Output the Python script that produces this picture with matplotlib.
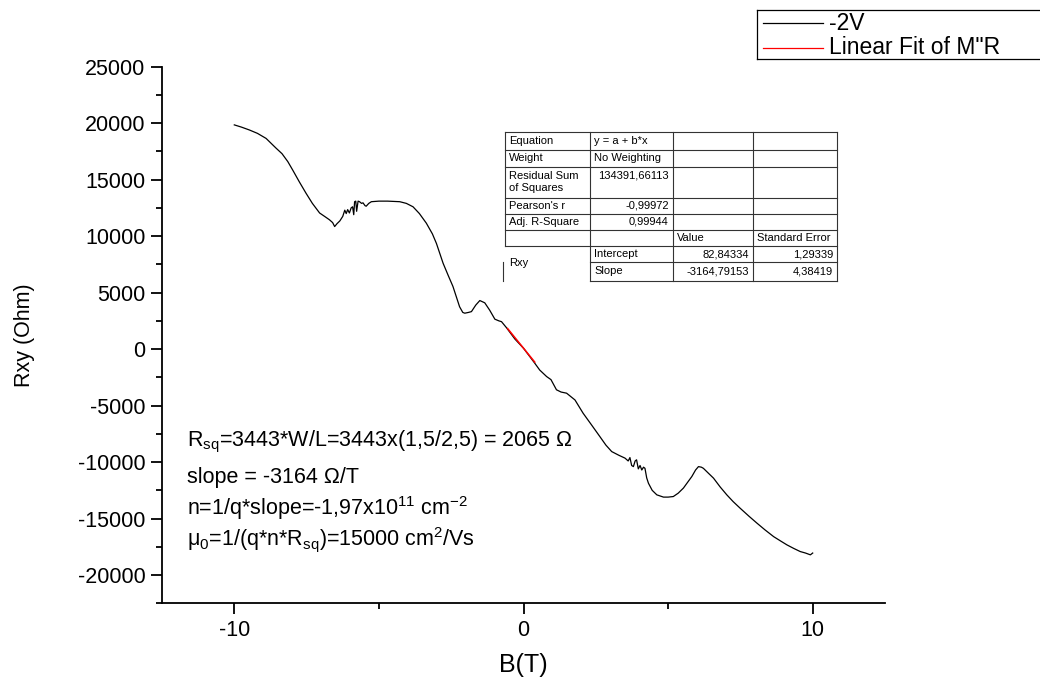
import numpy as np
import matplotlib
matplotlib.use("Agg")
import matplotlib.pyplot as plt
from matplotlib.ticker import MultipleLocator

plt.rcParams['font.family'] = ['Liberation Sans', 'DejaVu Sans']
plt.rcParams['mathtext.fontset'] = 'custom'
plt.rcParams['mathtext.rm'] = 'Liberation Sans'
plt.rcParams['mathtext.it'] = 'Liberation Sans'
plt.rcParams['axes.unicode_minus'] = False

# measured Rxy vs B at -2V gate
b_field = [-10.0, -9.75, -9.48, -9.2, -8.90, -8.56, -8.35, -8.15, -7.98, -7.75,
           -7.52, -7.30, -7.05, -6.85, -6.71, -6.60, -6.53, -6.45, -6.35, -6.25,
           -6.18, -6.13, -6.08, -6.02, -5.96, -5.91, -5.87, -5.84, -5.80, -5.77,
           -5.72, -5.67, -5.60, -5.55, -5.48, -5.44, -5.35, -5.26, -5.0, -4.7,
           -4.28, -4.05, -3.82, -3.6, -3.36, -3.15, -3.01, -2.78, -2.6, -2.44,
           -2.21, -2.10, -2.03, -1.90, -1.80, -1.65, -1.51, -1.34, -1.17, -0.99,
           -0.85, -0.76, -0.59, -0.3, 0.0, 0.39, 0.56, 0.80, 0.95, 1.14,
           1.30, 1.49, 1.78, 2.06, 2.35, 2.64, 2.85, 3.05, 3.3, 3.51,
           3.62, 3.68, 3.74, 3.80, 3.86, 3.91, 3.97, 4.03, 4.09, 4.15,
           4.20, 4.26, 4.32, 4.45, 4.61, 4.84, 5.00, 5.18, 5.35, 5.53,
           5.70, 5.82, 5.95, 6.05, 6.15, 6.22, 6.40, 6.57, 6.80, 7.03,
           7.25, 7.49, 7.8, 8.07, 8.35, 8.65, 8.9, 9.11, 9.35, 9.57,
           9.75, 9.92, 10.0]
rxy = [19850, 19650, 19400, 19100, 18650, 17800, 17300, 16600, 15850, 14800,
       13800, 12900, 12050, 11700, 11450, 11200, 10850, 11100, 11350, 11750,
       12300, 12000, 12350, 12050, 12500, 12600, 11900, 13050, 13100, 12200,
       13100, 13050, 12900, 12950, 12700, 12650, 12900, 13050, 13100, 13100,
       13050, 12900, 12600, 12000, 11150, 10200, 9350, 7600, 6500, 5550,
       3750, 3250, 3180, 3250, 3320, 3900, 4300, 4100, 3450, 2650,
       2500, 2430, 1900, 900, 80, -1250, -1850, -2430, -2700, -3600,
       -3800, -3900, -4500, -5670, -6700, -7740, -8500, -9070, -9400, -9650,
       -9900, -9600, -10300, -10400, -9900, -9800, -10600, -10300, -10700, -10450,
       -10550, -11400, -11870, -12500, -12900, -13100, -13100, -13050, -12750, -12300,
       -11700, -11280, -10700, -10400, -10450, -10550, -11000, -11420, -12200, -12900,
       -13500, -14080, -14800, -15400, -16000, -16600, -17000, -17330, -17650, -17920,
       -18050, -18210, -18050]

# linear fit segment
fit_b = [-0.55, 0.39]
fit_r = [1823, -1151]

fit_rows = [
    ("Equation", "y = a + b*x", "", ""),
    ("Weight", "No Weighting", "", ""),
    ("Residual Sum\nof Squares", "134391,66113", "", ""),
    ("Pearson's r", "-0,99972", "", ""),
    ("Adj. R-Square", "0,99944", "", ""),
    ("", "", "Value", "Standard Error"),
    ("Rxy", "Intercept", "82,84334", "1,29339"),
    ("", "Slope", "-3164,79153", "4,38419"),
]

notes = [
    r"R$_{\rm sq}$=3443*W/L=3443x(1,5/2,5) = 2065 Ω",
    "slope = -3164 Ω/T",
    r"n=1/q*slope=-1,97x10$^{11}$ cm$^{-2}$",
    r"μ$_{0}$=1/(q*n*R$_{\rm sq}$)=15000 cm$^{2}$/Vs",
]

W, H = 1040, 693
fig = plt.figure(figsize=(W / 100, H / 100), dpi=100)
ax = fig.add_axes([162 / W, 1 - 603.3 / H, (885 - 162) / W, (603.3 - 66.7) / H])

ax.plot(b_field, rxy, color="black", lw=0.9)
ax.plot(fit_b, fit_r, color="red", lw=1.1)

ax.set_xlim(-12.5, 12.5)
ax.set_ylim(-22500, 25000)
ax.xaxis.set_major_locator(MultipleLocator(10))
ax.xaxis.set_minor_locator(MultipleLocator(5))
ax.yaxis.set_minor_locator(MultipleLocator(2500))
ax.set_yticks(np.arange(-20000, 25001, 5000))
for s in ["top", "right"]:
    ax.spines[s].set_visible(False)
for s in ["left", "bottom"]:
    ax.spines[s].set_linewidth(1.3)
ax.tick_params(which="major", direction="out", length=8, width=1.3, labelsize=15.5, pad=4)
ax.tick_params(which="minor", direction="out", length=4, width=1.3)
ax.set_xlabel("B(T)", fontsize=18, labelpad=9)
ax.set_ylabel("Rxy (Ohm)", fontsize=15.5, labelpad=31)

# overlay in pixel coords for table, notes and legend
ov = fig.add_axes([0, 0, 1, 1])
ov.set_xlim(0, W)
ov.set_ylim(H, 0)
ov.axis("off")
ov.patch.set_alpha(0)

baselines = [446.7, 483.3, 514.5, 545]
for txt, yb in zip(notes, baselines):
    ov.text(187, yb, txt, fontsize=15.5, va="baseline", ha="left")

# fit table
cx = [505, 590, 672.7, 752.7, 837.3]
ry = [132.3, 150, 166.7, 197.7, 214, 230, 246.3, 262.3, 280.5]
lkw = dict(color="#333333", lw=0.8)
for i, y in enumerate(ry):
    if i in (7, 8):
        ov.plot([cx[1], cx[4]], [y, y], **lkw)
    else:
        ov.plot([cx[0], cx[4]], [y, y], **lkw)
for x in cx[1:]:
    ov.plot([x, x], [ry[0], ry[-1]], **lkw)
ov.plot([cx[0], cx[0]], [ry[0], ry[6]], **lkw)
ov.plot([cx[0] - 2, cx[0] - 2], [ry[7], ry[8]], **lkw)

right_cells = {(2, 1), (3, 1), (4, 1), (6, 2), (6, 3), (7, 2), (7, 3)}
for r, row in enumerate(fit_rows):
    for c, cell in enumerate(row):
        if not cell:
            continue
        y0, y1 = ry[r], ry[r + 1]
        if r == 6 and c == 0:
            y1 = ry[8]
        if r == 2 and c == 1:
            ym = y0 + 8.5
        else:
            ym = (y0 + y1) / 2
        if (r, c) in right_cells:
            ov.text(cx[c + 1] - 4, ym, cell, fontsize=8, ha="right", va="center", linespacing=1.25)
        else:
            ov.text(cx[c] + 4, ym, cell, fontsize=8, ha="left", va="center", linespacing=1.25)

# legend
ov.plot([757, W], [9.5, 9.5], color="black", lw=0.9)
ov.plot([757, 757], [9.5, 59], color="black", lw=0.9)
ov.plot([757, W], [59, 59], color="black", lw=0.9)
ov.plot([763, 823], [23, 23], color="black", lw=0.9)
ov.plot([763, 823], [48, 48], color="red", lw=0.9)
ov.text(829, 23, "-2V", fontsize=16.5, va="center", ha="left")
ov.text(829, 48, 'Linear Fit of M"R', fontsize=16.5, va="center", ha="left")

fig.savefig("out.png", dpi=100)
